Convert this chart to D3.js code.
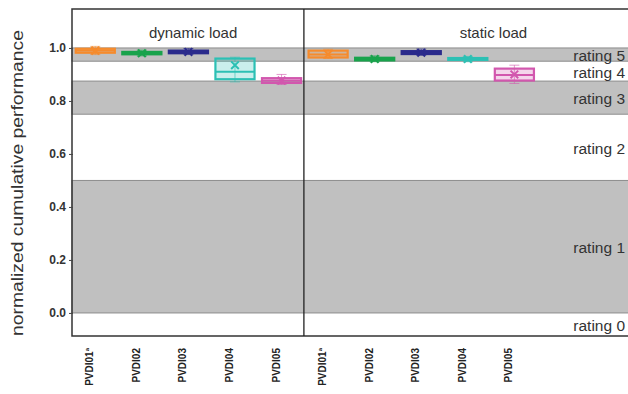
<!DOCTYPE html>
<html>
<head>
<meta charset="utf-8">
<script src="https://cdn.jsdelivr.net/npm/d3@7"></script>
<style>
  body { margin: 0; background: #fff; }
  text { font-family: "Liberation Sans", Arial, sans-serif; }
</style>
</head>
<body>
<div id="chart-area"></div>
<script>
// categories / groups
var devices = ["PVDI01", "PVDI02", "PVDI03", "PVDI04", "PVDI05"];
var loads = ["dynamic load", "static load"];
var colors = ["#f68b2c", "#19a34c", "#2b2b8c", "#2cc0b4", "#d257ae"];

// box values per load (min, q1, median, q3, max, mean)
var dynMin = [0.975, 0.970, 0.975, 0.872, 0.862];
var dynQ1  = [0.982, 0.976, 0.980, 0.882, 0.868];
var dynMed = [0.990, 0.981, 0.985, 0.910, 0.877];
var dynQ3  = [0.997, 0.985, 0.990, 0.960, 0.886];
var dynMax = [1.006, 0.992, 0.998, 0.965, 0.900];
var dynMean = [0.990, 0.980, 0.985, 0.935, 0.877];

var staMin = [0.960, 0.948, 0.972, 0.948, 0.866];
var staQ1  = [0.964, 0.953, 0.977, 0.955, 0.877];
var staMed = [0.975, 0.958, 0.983, 0.958, 0.898];
var staQ3  = [0.990, 0.963, 0.988, 0.962, 0.922];
var staMax = [0.995, 0.970, 0.996, 0.968, 0.935];
var staMean = [0.976, 0.958, 0.982, 0.958, 0.900];

// rating bands
var ratingNames = ["rating 0", "rating 1", "rating 2", "rating 3", "rating 4", "rating 5"];
var ratingLow  = [-0.09, 0.0, 0.5, 0.75, 0.875, 0.95];
var ratingHigh = [0.0, 0.5, 0.75, 0.875, 0.95, 1.0];
var ratingGray = [false, true, false, true, false, true];

var yTicks = [0.0, 0.2, 0.4, 0.6, 0.8, 1.0];

var width = 628, height = 394;
var margin = {left: 72, top: 9, bottom: 336, right: 628};

var svg = d3.select("#chart-area").append("svg")
    .attr("width", width)
    .attr("height", height);

var y = d3.scaleLinear().domain([-0.087, 1.147]).range([margin.bottom, margin.top]);
var x = d3.scaleLinear().domain([-0.5, 11.44]).range([margin.left, margin.right]);

// bands
ratingNames.forEach(function(r, i) {
    if (ratingGray[i]) {
        svg.append("rect")
            .attr("x", margin.left).attr("width", margin.right - margin.left + 2)
            .attr("y", y(ratingHigh[i]))
            .attr("height", y(ratingLow[i]) - y(ratingHigh[i]))
            .attr("fill", "#c0c0c0")
            .attr("stroke", "#8c8c8c")
            .attr("stroke-width", 1);
    }
});

// frame
svg.append("path")
    .attr("d", "M" + (margin.right + 2) + "," + margin.top + "H" + margin.left +
               "V" + margin.bottom + "H" + (margin.right + 2))
    .attr("fill", "none")
    .attr("stroke", "#333")
    .attr("stroke-width", 1.5);

svg.append("line")
    .attr("x1", x(4.48)).attr("x2", x(4.48))
    .attr("y1", margin.top).attr("y2", margin.bottom)
    .attr("stroke", "#222").attr("stroke-width", 1.3);

// y axis
var yAxis = d3.axisLeft(y).tickValues(yTicks).tickSize(4).tickFormat(d3.format(".1f"));
var ga = svg.append("g")
    .attr("transform", "translate(" + (margin.left + 1) + ",0)")
    .call(yAxis);
ga.select(".domain").remove();
ga.selectAll("line").attr("stroke", "#444");
ga.selectAll("text")
    .attr("font-size", "12px")
    .attr("font-weight", "bold")
    .attr("fill", "#333")
    .attr("x", -7);

svg.append("text")
    .attr("transform", "translate(23," + 183 + ") rotate(-90)")
    .attr("text-anchor", "middle")
    .attr("font-family", "Open Sans")
    .attr("font-size", "16px")
    .attr("textLength", 306)
    .attr("lengthAdjust", "spacingAndGlyphs")
    .attr("fill", "#333")
    .text("normalized cumulative performance");

// panel titles
var titleX = [x(2.1), x(8.55)];
loads.forEach(function(l, k) {
    svg.append("text")
        .attr("x", titleX[k])
        .attr("y", 38)
        .attr("text-anchor", "middle")
        .attr("font-family", "Open Sans")
        .attr("font-size", "15px")
        .attr("fill", "#333")
        .text(l);
});

// boxes
var groups = [
    {min: dynMin, q1: dynQ1, med: dynMed, q3: dynQ3, max: dynMax, mean: dynMean},
    {min: staMin, q1: staQ1, med: staMed, q3: staQ3, max: staMax, mean: staMean}
];
var bw = 0.84;

groups.forEach(function(gr, k) {
    devices.forEach(function(dev, i) {
        var pos = i + 5 * k;
        var cx = x(pos);
        var w = x(bw) - x(0);
        var c = colors[i];
        var g = svg.append("g");
        g.append("line")
            .attr("x1", cx).attr("x2", cx)
            .attr("y1", y(gr.max[i])).attr("y2", y(gr.min[i]))
            .attr("stroke", c).attr("stroke-width", 1).attr("opacity", 0.6);
        [gr.min[i], gr.max[i]].forEach(function(v) {
            g.append("line")
                .attr("x1", cx - 5).attr("x2", cx + 5)
                .attr("y1", y(v)).attr("y2", y(v))
                .attr("stroke", c).attr("stroke-width", 1).attr("opacity", 0.6);
        });
        g.append("rect")
            .attr("x", cx - w / 2).attr("width", w)
            .attr("y", y(gr.q3[i]))
            .attr("height", Math.max(y(gr.q1[i]) - y(gr.q3[i]), 1))
            .attr("fill", c).attr("fill-opacity", 0.25)
            .attr("stroke", c).attr("stroke-width", 2.2);
        g.append("line")
            .attr("x1", cx - w / 2).attr("x2", cx + w / 2)
            .attr("y1", y(gr.med[i])).attr("y2", y(gr.med[i]))
            .attr("stroke", c).attr("stroke-width", 2);
        g.append("path")
            .attr("d", d3.symbol(d3.symbolTimes, 40)())
            .attr("transform", "translate(" + cx + "," + y(gr.mean[i]) + ")")
            .attr("fill", "none")
            .attr("stroke", c).attr("stroke-width", 2);
    });
});

// rating labels on top
ratingNames.forEach(function(r, i) {
    svg.append("text")
        .attr("x", 625)
        .attr("y", y((ratingLow[i] + ratingHigh[i]) / 2) + 1)
        .attr("dy", "0.35em")
        .attr("text-anchor", "end")
        .attr("font-size", "15.5px")
        .attr("fill", "#333")
        .text(r);
});

// x labels (rotated)
var xAxis = d3.axisBottom(x)
    .tickValues(d3.range(10))
    .tickSize(0)
    .tickFormat(function(d) { return devices[d % 5]; });
var gx = svg.append("g")
    .attr("transform", "translate(-6," + margin.bottom + ")")
    .call(xAxis);
gx.select(".domain").remove();
gx.selectAll("text")
    .attr("transform", "rotate(-90)")
    .attr("x", -12)
    .attr("y", 0)
    .attr("dy", "0.35em")
    .attr("text-anchor", "end")
    .attr("font-size", "10px")
    .attr("font-weight", "bold")
    .attr("fill", "#222")
    .each(function(d) {
        if (d % 5 === 0) {
            d3.select(this).append("tspan")
                .attr("dy", "-0.7em")
                .attr("font-size", "6px")
                .text("a");
        }
    });
</script>
</body>
</html>
